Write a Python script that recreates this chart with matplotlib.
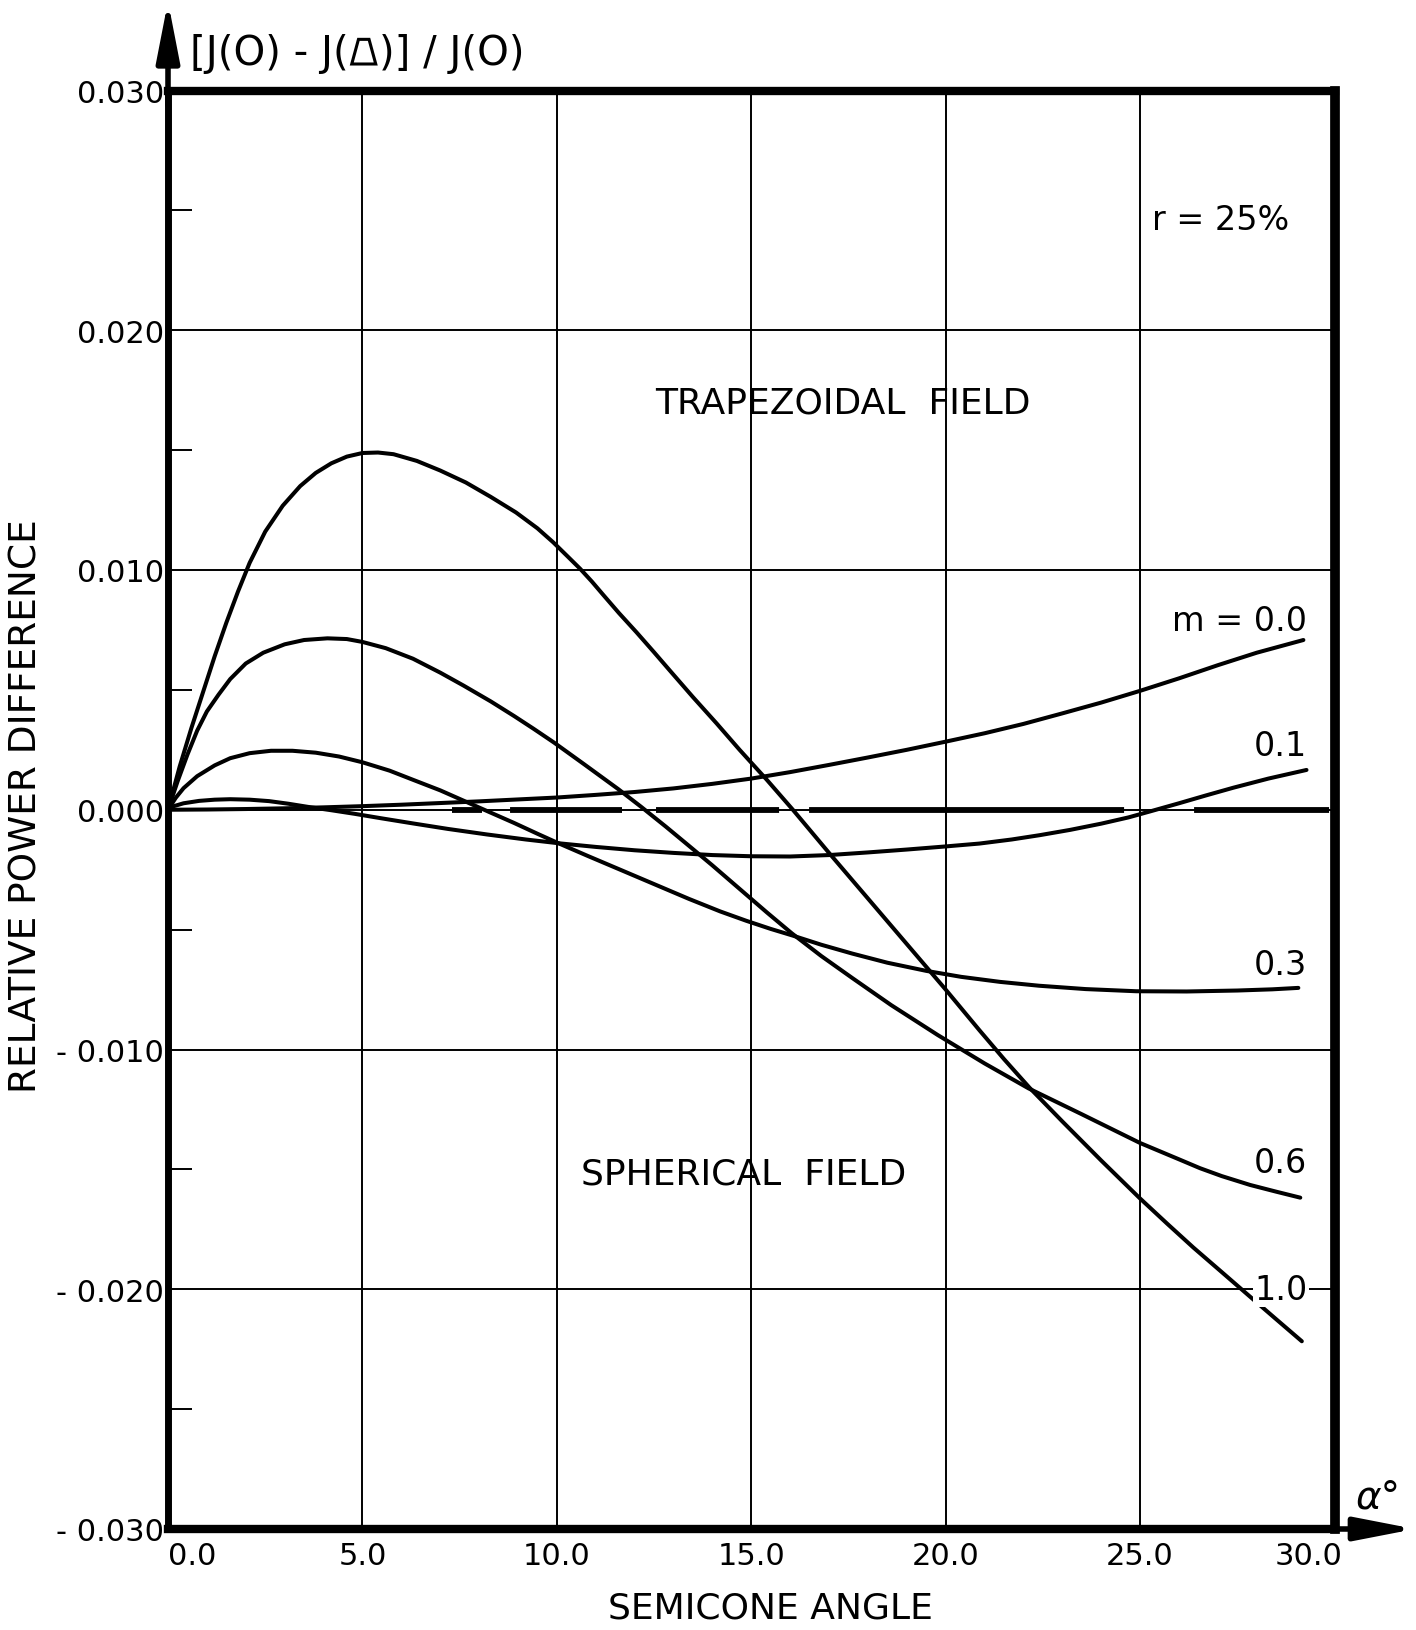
import matplotlib
matplotlib.use("Agg")
import matplotlib.pyplot as plt
from matplotlib.patches import Polygon
from matplotlib.transforms import IdentityTransform, ScaledTranslation

plt.rcParams['font.family'] = ['DejaVu Sans', 'Noto Sans']
plt.rcParams['lines.scale_dashes'] = False

# curves: semicone angle (deg) -> relative power difference
x_m10 = [0, 0.3, 0.6, 0.9, 1.2, 1.5, 1.8, 2.1, 2.5, 2.95, 3.4, 3.8, 4.2, 4.6, 5.0, 5.4,
         5.8, 6.4, 7.0, 7.66, 8.3, 8.95, 9.5, 9.91, 10.3, 10.6, 10.9, 11.2, 11.6, 12.05,
         12.5, 12.91, 13.5, 14.11, 14.7, 15.4, 16.07, 17.0, 18.0, 19.0, 20.0, 20.87, 21.5,
         22.16, 23.0, 24.0, 24.99, 25.7, 26.37, 27.14, 27.8, 28.5, 29.16]
y_m10 = [0, 0.0018, 0.0034, 0.0049, 0.0064, 0.0078, 0.0091, 0.0103, 0.0116, 0.01268,
         0.0135, 0.01405, 0.01445, 0.01473, 0.01488, 0.0149, 0.01483, 0.01455, 0.01415,
         0.01365, 0.01305, 0.0124, 0.01174, 0.01115, 0.01053, 0.01005, 0.00952, 0.00895,
         0.0082, 0.0074, 0.00657, 0.0058, 0.0047, 0.0036, 0.0025, 0.00125, 0.0, -0.0018,
         -0.0037, -0.0056, -0.0075, -0.0092, -0.0104, -0.0116, -0.013, -0.01463, -0.0162,
         -0.01727, -0.01826, -0.01934, -0.02027, -0.02125, -0.02217]

x_m06 = [0, 0.25, 0.5, 0.75, 1.0, 1.3, 1.6, 2.0, 2.45, 3.0, 3.5, 4.1, 4.6, 5.0, 5.6, 6.3,
         7.0, 7.6, 8.3, 8.9, 9.4, 9.93, 10.7, 11.58, 12.17, 12.8, 13.38, 14.0, 14.7, 15.4,
         16.04, 16.8, 17.6, 18.6, 19.8, 21.0, 22.13, 23.5, 25.0, 26.0, 26.54, 27.1, 27.83,
         28.5, 29.12]
y_m06 = [0, 0.0012, 0.0023, 0.0033, 0.0041, 0.0048, 0.00545, 0.0061, 0.00655, 0.0069,
         0.00708, 0.00715, 0.00712, 0.007, 0.00674, 0.0063, 0.00572, 0.00518, 0.00452,
         0.00391, 0.00338, 0.0028, 0.0019, 0.00086, 0.00012, -0.0007, -0.00148, -0.00232,
         -0.0033, -0.00428, -0.00515, -0.0061, -0.00702, -0.00815, -0.0094, -0.01058,
         -0.01162, -0.0127, -0.0139, -0.01458, -0.01495, -0.01528, -0.01565, -0.01593,
         -0.01618]

x_m03 = [0, 0.2, 0.4, 0.75, 1.2, 1.6, 2.1, 2.65, 3.2, 3.8, 4.4, 5.0, 5.7, 6.3, 7.0, 7.6,
         8.2, 8.9, 9.5, 10.06, 10.8, 11.6, 12.5, 13.4, 14.2, 14.87, 15.5, 16.07, 16.8, 17.6,
         18.5, 19.5, 20.4, 21.4, 22.4, 23.6, 24.9, 26.2, 27.5, 28.4, 29.07]
y_m03 = [0, 0.0005, 0.0009, 0.0014, 0.00185, 0.00215, 0.00236, 0.00246, 0.00246, 0.00238,
         0.00222, 0.00198, 0.00163, 0.00125, 0.00081, 0.00038, -0.00005, -0.00055, -0.001,
         -0.00141, -0.00193, -0.00248, -0.0031, -0.00372, -0.00424, -0.00463, -0.00497,
         -0.00525, -0.00563, -0.006, -0.00638, -0.00672, -0.00697, -0.00718, -0.00734,
         -0.00748, -0.00757, -0.00758, -0.00754, -0.00749, -0.00743]

x_m01 = [0, 0.15, 0.4, 0.8, 1.2, 1.6, 2.1, 2.6, 3.1, 3.6, 4.2, 4.8, 5.5, 6.3, 7.2, 8.2,
         9.2, 10.06, 11.0, 12.0, 13.0, 14.0, 15.0, 16.0, 17.0, 18.0, 19.0, 20.0, 20.87,
         21.7, 22.42, 23.2, 24.0, 24.7, 25.3, 26.0, 26.7, 27.4, 28.3, 29.28]
y_m01 = [0, 0.00015, 0.00027, 0.00037, 0.00042, 0.00044, 0.00042, 0.00036, 0.00025,
         0.00012, -0.00002, -0.00017, -0.00036, -0.00057, -0.0008, -0.00103, -0.00124,
         -0.0014, -0.00155, -0.00169, -0.0018, -0.00189, -0.00194, -0.00195, -0.00189,
         -0.00178, -0.00166, -0.00153, -0.00141, -0.00124, -0.00106, -0.00084, -0.00058,
         -0.00032, -0.00005, 0.00027, 0.0006, 0.00092, 0.0013, 0.00166]

x_m00 = [0, 1, 2, 3, 4, 5, 6, 7, 8, 9, 10, 11, 12, 13, 14, 15, 16, 17, 18, 19, 20, 21, 22,
         23, 24, 25, 26, 27, 28, 29.2]
y_m00 = [0, 0.00001, 0.00003, 0.00006, 0.0001, 0.00015, 0.00021, 0.00028, 0.00035, 0.00043,
         0.00051, 0.00062, 0.00074, 0.00089, 0.00108, 0.0013, 0.00157, 0.00187, 0.00218,
         0.0025, 0.00284, 0.00319, 0.00358, 0.00402, 0.00447, 0.00496, 0.00548, 0.00603,
         0.00655, 0.00708]

curves = [(x_m00, y_m00), (x_m01, y_m01), (x_m03, y_m03), (x_m06, y_m06), (x_m10, y_m10)]
curve_labels = ['m = 0.0', '0.1', '0.3', '0.6', '1.0']
label_y = [0.0079, 0.00266, -0.00646, -0.0147, -0.0200]

x_ticks = [0, 5, 10, 15, 20, 25, 30]
x_tick_labels = ['0.0', '5.0', '10.0', '15.0', '20.0', '25.0', '30.0']
y_ticks = [-0.03, -0.02, -0.01, 0.0, 0.01, 0.02, 0.03]
y_tick_labels = ['- 0.030', '- 0.020', '- 0.010', '0.000', '0.010', '0.020', '0.030']
y_minor = [-0.025, -0.015, -0.005, 0.005, 0.015, 0.025]

fig = plt.figure(figsize=(14.16, 16.31), dpi=100)
ax = fig.add_axes([168 / 1416, 1 - 1530 / 1631, 1166.5 / 1416, 1438.5 / 1631])
ax.set_xlim(0, 30)
ax.set_ylim(-0.03, 0.03)

ax.set_xticks(x_ticks)
ax.set_xticklabels(x_tick_labels, fontsize=22)
ax.set_yticks(y_ticks)
ax.set_yticklabels(y_tick_labels, fontsize=22)
ax.set_yticks(y_minor, minor=True)
ax.tick_params(axis='both', which='major', length=0)
ax.tick_params(axis='x', pad=9)
ax.tick_params(axis='y', pad=3)
ax.tick_params(axis='y', which='minor', direction='in', length=17, width=1.4)
labels = ax.get_xticklabels()
labels[0].set_horizontalalignment('left')
labels[-1].set_horizontalalignment('right')
labels[-1].set_transform(labels[-1].get_transform()
                         + ScaledTranslation(0.08, 0, fig.dpi_scale_trans))

ax.grid(True, which='major', color='black', lw=1.4)
ax.set_axisbelow(True)

for side, w in [('left', 5), ('top', 6), ('right', 7), ('bottom', 6)]:
    ax.spines[side].set_linewidth(w)

# heavy dashed zero line
ax.plot([7.31, 29.9], [0, 0], color='black', lw=4.2,
        linestyle=(0, (21.6, 20.2, 80.6, 24.5, 88.6, 21.6, 226.8, 50.4, 97.2, 200)))

for (xs, ys), lab, ly in zip(curves, curve_labels, label_y):
    ax.plot(xs, ys, color='black', lw=2.9, solid_capstyle='round', solid_joinstyle='round')
    ax.text(29.3, ly, lab, fontsize=24, ha='right', va='center',
            bbox=dict(facecolor='white', edgecolor='none', pad=1))

ax.text(17.36, 0.0170, 'TRAPEZOIDAL  FIELD', fontsize=26, ha='center', va='center')
ax.text(14.81, -0.01516, 'SPHERICAL  FIELD', fontsize=26, ha='center', va='center')
ax.text(27.06, 0.0246, 'r = 25%', fontsize=24, ha='center', va='center')

# axis arrows
arrow = dict(arrowstyle='-|>,head_length=1.8,head_width=0.35', color='black', lw=4,
             shrinkA=0, shrinkB=0, mutation_scale=20)
ax.annotate('', xy=(0, 1.062), xycoords='axes fraction', xytext=(0, 0.99),
            arrowprops=arrow, annotation_clip=False)
ax.annotate('', xy=(1.069, 0), xycoords='axes fraction', xytext=(0.99, 0),
            arrowprops=arrow, annotation_clip=False)

fig.text(27 / 1416, 1 - 806 / 1631, 'RELATIVE POWER DIFFERENCE', fontsize=27,
         rotation=90, ha='center', va='center')
fig.text(770 / 1416, 1 - 1609 / 1631, 'SEMICONE ANGLE', fontsize=26,
         ha='center', va='center')
fig.text(1378 / 1416, 1 - 1498 / 1631, '\u03b1\u00b0', fontsize=28, style='italic',
         ha='center', va='center')

# title: the trapezium sign has no glyph in the installed fonts, so it is drawn as a shape
base = 65
fs = 29
t1 = fig.text(190 / 1416, 1 - base / 1631, '[J(O) - J(', fontsize=fs, ha='left',
              va='baseline')
renderer = fig.canvas.get_renderer()
bb = t1.get_window_extent(renderer)
cap = 0.72 * fs * 100 / 72
yb = 1631 - base
x0 = bb.x1 + 3
w = 24
trap = Polygon([(x0, yb), (x0 + w, yb), (x0 + w * 0.72, yb + cap * 0.85),
                (x0 + w * 0.28, yb + cap * 0.85)], closed=True, fill=False,
               edgecolor='black', lw=2.2, transform=IdentityTransform())
fig.add_artist(trap)
fig.text((x0 + w + 3) / 1416, 1 - base / 1631, ')] / J(O)', fontsize=fs, ha='left',
         va='baseline')

fig.savefig('out.png', dpi=100, facecolor='white')
